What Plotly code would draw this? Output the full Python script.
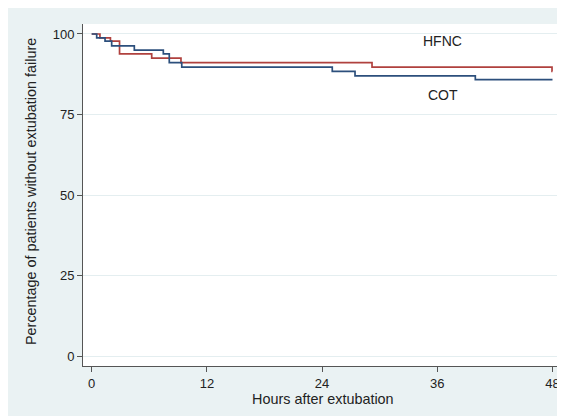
import plotly.graph_objects as go

# Kaplan-Meier step data (hours, percentage without extubation failure)
hfnc_hours = [0, 0.86, 1.95, 2.9, 6.25, 9.3, 29.2, 47.95, 48]
hfnc_pct = [100, 98.8, 97.8, 93.8, 92.5, 91.1, 89.7, 88.4, 88.4]

cot_hours = [0, 0.52, 1.39, 2.08, 4.44, 7.46, 8.08, 9.38, 25.06, 27.43, 39.96, 48]
cot_pct = [100, 98.8, 97.8, 96.3, 95.0, 93.8, 91.1, 89.7, 88.4, 87.0, 85.8, 85.8]

x_ticks = [0, 12, 24, 36, 48]
y_ticks = [0, 25, 50, 75, 100]

labels = ["HFNC", "COT"]
label_x = [36.56, 36.6]
label_y = [97.9, 81.1]

x_title = "Hours after extubation"
y_title = "Percentage of patients without extubation failure"

RED = "#b0413e"
BLUE = "#2c4f7c"
BG = "#eaf2f3"
FONT = "Liberation Sans, Arial, sans-serif"

fig = go.Figure()
fig.add_trace(go.Scatter(x=hfnc_hours, y=hfnc_pct, mode="lines", line_shape="hv",
                         line=dict(color=RED, width=1.7), name="HFNC", showlegend=False))
fig.add_trace(go.Scatter(x=cot_hours, y=cot_pct, mode="lines", line_shape="hv",
                         line=dict(color=BLUE, width=1.7), name="COT", showlegend=False))

for t, xx, yy in zip(labels, label_x, label_y):
    fig.add_annotation(x=xx, y=yy, text=t, showarrow=False, xref="x", yref="y",
                       font=dict(family=FONT, size=14, color="#222"))

# page body adds an 8px offset; plot area on screen: x 83..562, y 24..366
W, H = 557, 408
L, R, T, B = 75, 3, 16, 50
pw, ph = W - L - R, H - T - B

fig.add_annotation(xref="paper", yref="paper", x=(31 - 83) / pw, y=(366 - 192) / ph,
                   text=y_title, textangle=-90, showarrow=False,
                   xanchor="center", yanchor="middle",
                   font=dict(family=FONT, size=14.4, color="#222"))
fig.add_annotation(xref="paper", yref="paper", x=0.5, y=(366 - 399) / ph,
                   text=x_title, showarrow=False, xanchor="center", yanchor="middle",
                   font=dict(family=FONT, size=14.4, color="#222"))

fig.update_layout(
    width=W, height=H,
    margin=dict(l=L, r=R, t=T, b=B),
    paper_bgcolor=BG, plot_bgcolor="white",
    font=dict(family=FONT, size=13, color="#222"),
    xaxis=dict(range=[-0.906, 48.99], tickvals=x_ticks, ticktext=[str(v) for v in x_ticks],
               showgrid=False, zeroline=False, showline=True, linecolor="#555", linewidth=1,
               ticks="outside", ticklen=5, tickcolor="#555", tickwidth=1,
               tickfont=dict(size=13)),
    yaxis=dict(range=[-3.1, 103.1], tickvals=y_ticks, ticktext=[str(v) for v in y_ticks],
               showgrid=True, gridcolor="#e4eef0", gridwidth=1, zeroline=False,
               showline=True, linecolor="#555", linewidth=1,
               ticks="outside", ticklen=5, tickcolor="#555", tickwidth=1,
               tickfont=dict(size=13)),
)

fig.write_html("out.html")
